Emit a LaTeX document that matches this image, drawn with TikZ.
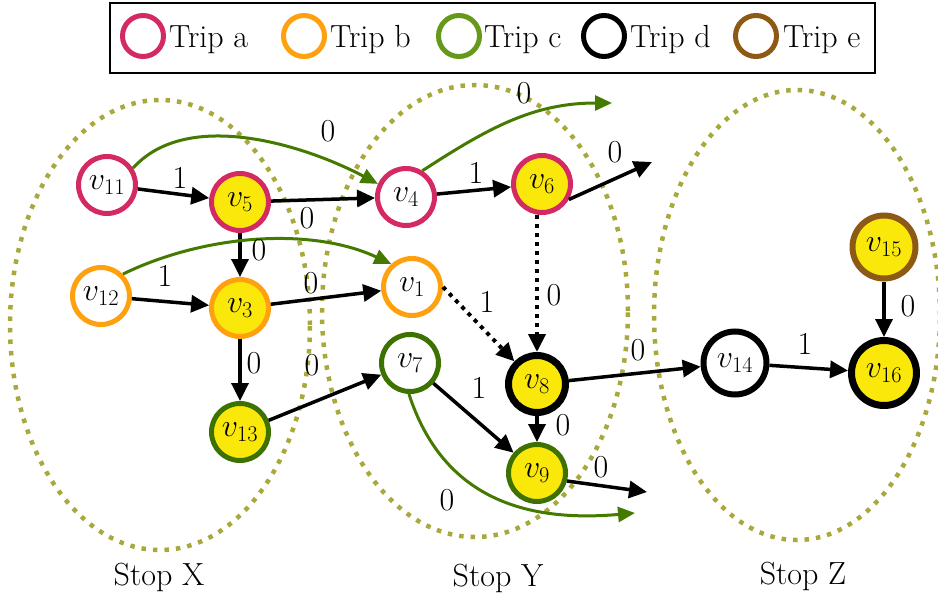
\documentclass[tikz,border=0pt]{standalone}
\usepackage{fix-cm}
\usetikzlibrary{arrows.meta}
\definecolor{tripA}{HTML}{D42A64}
\definecolor{tripB}{HTML}{FFA00E}
\definecolor{tripC}{HTML}{3E7200}
\definecolor{tripCl}{HTML}{66981A}
\definecolor{tripE}{HTML}{8C5A14}
\definecolor{nodeYellow}{HTML}{FBE80B}
\definecolor{stopCol}{HTML}{A8A83C}
\definecolor{arrowGreen}{HTML}{447A00}
\begin{document}
\begin{tikzpicture}[x=1pt,y=1pt,
  every node/.style={font=\fontsize{32}{38}\selectfont},
  vtx/.style={circle,draw,line width=5pt,minimum size=57pt,inner sep=0pt,fill=white},
  legc/.style={circle,draw,line width=5pt,minimum size=41pt,inner sep=0pt},
  stopell/.style={stopCol,line width=4.5pt,dash pattern=on 4.5pt off 7pt},
  edge/.style={line width=3.5pt,-{Triangle[length=18pt,width=17pt]}},
  gedge/.style={arrowGreen,line width=3pt,-{Triangle[length=17pt,width=15pt]}},
  dotedge/.style={line width=4pt,dash pattern=on 4pt off 5pt,-{Triangle[length=18pt,width=17pt]}},
  lbl/.style={inner sep=0pt}
]
\useasboundingbox (0,0) rectangle (938,-597);
% stops
\draw[stopell] (160,-325) ellipse [x radius=150, y radius=225];
\draw[stopell] (475,-311) ellipse [x radius=153, y radius=226];
\draw[stopell] (797,-315) ellipse [x radius=143, y radius=225];
\node (sx) at (159,-577) {Stop X};
\node (sy) at (498,-578) {Stop Y};
\node (sz) at (803,-576) {Stop Z};
% nodes
\node[vtx,draw=tripA] (v11) at (107,-185) {$v_{11}$};
\node[vtx,draw=tripA,fill=nodeYellow] (v5) at (240,-202) {$v_{5}$};
\node[vtx,draw=tripA] (v4) at (406,-197) {$v_{4}$};
\node[vtx,draw=tripA,fill=nodeYellow] (v6) at (542,-184) {$v_{6}$};
\node[vtx,draw=tripB] (v12) at (101,-296) {$v_{12}$};
\node[vtx,draw=tripB,fill=nodeYellow] (v3) at (240,-308) {$v_{3}$};
\node[vtx,draw=tripB] (v1) at (412,-287) {$v_{1}$};
\node[vtx,draw=tripC,fill=nodeYellow] (v13) at (240,-432) {$v_{13}$};
\node[vtx,draw=tripC] (v7) at (410,-363) {$v_{7}$};
\node[vtx,draw=tripC,fill=nodeYellow] (v9) at (537,-473) {$v_{9}$};
\node[vtx,draw=black,line width=7pt,fill=nodeYellow] (v8) at (537,-384) {$v_{8}$};
\node[vtx,draw=black,line width=6pt,minimum size=63pt] (v14) at (735,-363) {$v_{14}$};
\node[vtx,draw=black,line width=7pt,minimum size=65pt,fill=nodeYellow] (v16) at (884,-373) {$v_{16}$};
\node[vtx,draw=tripE,line width=6pt,minimum size=63pt,fill=nodeYellow] (v15) at (884,-247) {$v_{15}$};
% free ends
\coordinate (g1) at (612,-103);
\coordinate (g2) at (635,-513);
\coordinate (e6) at (652,-162);
\coordinate (e9) at (647,-492);
% edges
\draw[edge] (v11) -- (v5);
\draw[gedge] (v11.33) to[out=48,in=152,looseness=0.85] (v4.155);
\draw[edge] (v5) -- (v4);
\draw[edge] (v5) -- (v3);
\draw[edge] (v12) -- (v3);
\draw[gedge] (v12.45) to[out=26,in=155,looseness=0.85] (v1.132);
\draw[edge] (v3) -- (v1);
\draw[edge] (v3) -- (v13);
\draw[edge] (v13) -- (v7);
\draw[edge] (v4) -- (v6);
\draw[gedge] (v4.58) to[out=33,in=180] (g1);
\draw[edge] (v6.-30) -- (e6);
\draw[dotedge] (v6.south -| v8.north) -- (v8.north);
\draw[dotedge] (v1.0) -- (v8.135);
\draw[edge] (v7) -- (v9);
\draw[gedge] (v7.-92) to[out=-72,in=185,looseness=1.1] (g2);
\draw[edge] (v8) -- (v9);
\draw[edge] (v9.-15) -- (e9);
\draw[edge] (v8) -- (v14);
\draw[edge] (v14) -- (v16);
\draw[edge] (v15) -- (v16);
% labels
\node[lbl] (l1) at (180,-178) {1};
\node[lbl] (l2) at (328,-131) {0};
\node[lbl] (l3) at (307,-218) {0};
\node[lbl] (l4) at (259,-250) {0};
\node[lbl] (l5) at (165,-276) {1};
\node[lbl] (l6) at (311,-283) {0};
\node[lbl] (l7) at (254,-363) {0};
\node[lbl] (l8) at (312,-365) {0};
\node[lbl] (l9) at (476,-173) {1};
\node[lbl] (l10) at (524,-93) {0};
\node[lbl] (l11) at (615,-152) {0};
\node[lbl] (l12) at (554,-295) {0};
\node[lbl] (l13) at (487,-302) {1};
\node[lbl] (l14) at (479,-388) {1};
\node[lbl] (l15) at (447,-500) {0};
\node[lbl] (l16) at (563,-425) {0};
\node[lbl] (l17) at (601,-467) {0};
\node[lbl] (l18) at (638,-350) {0};
\node[lbl] (l19) at (805,-344) {1};
\node[lbl] (l20) at (908,-306) {0};
% legend
\draw[line width=2.5pt,fill=white] (110,-3) rectangle (875,-73);
\node[legc,draw=tripA] (ca) at (143,-36) {};
\node[legc,draw=tripB] (cb) at (304,-36) {};
\node[legc,draw=tripCl] (cc) at (459,-36) {};
\node[legc,draw=black] (cd) at (604,-36) {};
\node[legc,draw=tripE] (ce) at (756,-36) {};
\node[anchor=base west,inner sep=0pt] (ta) at (169,-47) {Trip a};
\node[anchor=base west,inner sep=0pt] (tb) at (330,-47) {Trip b};
\node[anchor=base west,inner sep=0pt] (tc) at (484,-47) {Trip c};
\node[anchor=base west,inner sep=0pt] (td) at (630,-47) {Trip d};
\node[anchor=base west,inner sep=0pt] (te) at (783,-47) {Trip e};
\end{tikzpicture}
\end{document}
